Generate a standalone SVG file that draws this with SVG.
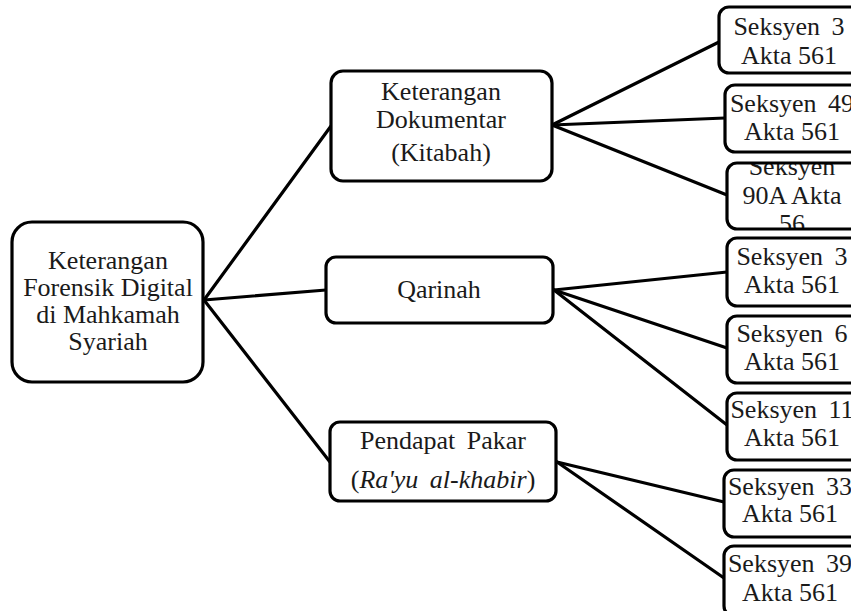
<svg xmlns="http://www.w3.org/2000/svg" width="851" height="611" viewBox="0 0 851 611">
<style>
.box{fill:#fff;stroke:#000;stroke-width:3.2}
.t{font-family:"Liberation Serif","Times New Roman",serif;font-size:26px;fill:#1a1a1a;text-anchor:middle}
.r{word-spacing:5px}
.c line{stroke:#000;stroke-width:3.2;stroke-linecap:round}
</style>
<defs>
<clipPath id="clip3"><rect x="727" y="163" width="135" height="66"/></clipPath>
</defs>
<rect width="851" height="611" fill="#fff"/>
<g class="c" id="connectors">
<line x1="204" y1="300" x2="331" y2="126"/>
<line x1="204" y1="300" x2="326" y2="290"/>
<line x1="204" y1="300" x2="330" y2="462"/>
<line x1="552" y1="125" x2="719" y2="42"/>
<line x1="552" y1="125" x2="725" y2="118"/>
<line x1="552" y1="125" x2="727" y2="195"/>
<line x1="554" y1="290" x2="727" y2="272"/>
<line x1="554" y1="290" x2="727" y2="348"/>
<line x1="554" y1="290" x2="727" y2="425"/>
<line x1="557" y1="462" x2="724" y2="502"/>
<line x1="557" y1="462" x2="724" y2="578"/>
</g>
<g id="root">
<rect class="box" x="12" y="222" width="191" height="160" rx="20"/>
<text class="t" x="108" y="269">Keterangan</text>
<text class="t" x="108" y="296">Forensik Digital</text>
<text class="t" x="108" y="323">di Mahkamah</text>
<text class="t" x="108" y="350">Syariah</text>
</g>
<g id="dokumentar">
<rect class="box" x="331" y="71" width="221" height="110" rx="12"/>
<text class="t" x="441" y="100">Keterangan</text>
<text class="t" x="441" y="128">Dokumentar</text>
<text class="t" x="441" y="161">(Kitabah)</text>
</g>
<g id="qarinah">
<rect class="box" x="326" y="257" width="227" height="66" rx="10"/>
<text class="t" x="439" y="298">Qarinah</text>
</g>
<g id="pakar">
<rect class="box" x="330" y="422" width="226" height="79" rx="10"/>
<text class="t r" x="443" y="449">Pendapat Pakar</text>
<text class="t r" x="443" y="488">(<tspan font-style="italic">Ra'yu al-khabir</tspan>)</text>
</g>
<g id="s3a">
<rect class="box" x="719" y="7" width="145" height="66" rx="10"/>
<text class="t r" x="789" y="35">Seksyen 3</text>
<text class="t" x="789" y="64">Akta 561</text>
</g>
<g id="s49">
<rect class="box" x="725" y="85" width="140" height="67" rx="10"/>
<text class="t r" x="792" y="112">Seksyen 49</text>
<text class="t" x="792" y="140">Akta 561</text>
</g>
<g id="s90a">
<g clip-path="url(#clip3)">
<rect x="727" y="163" width="135" height="66" fill="#fff"/>
<text class="t" x="792" y="175">Seksyen</text>
<text class="t" x="792" y="204">90A Akta</text>
<text class="t" x="792" y="232">56</text>
</g>
<rect class="box" x="727" y="163" width="135" height="66" rx="10" fill="none" style="fill:none"/>
</g>
<g id="s3b">
<rect class="box" x="727" y="238" width="135" height="68" rx="10"/>
<text class="t r" x="792" y="265">Seksyen 3</text>
<text class="t" x="792" y="293">Akta 561</text>
</g>
<g id="s6">
<rect class="box" x="727" y="316" width="135" height="67" rx="10"/>
<text class="t r" x="792" y="342">Seksyen 6</text>
<text class="t" x="792" y="370">Akta 561</text>
</g>
<g id="s11">
<rect class="box" x="727" y="393" width="135" height="67" rx="10"/>
<text class="t r" x="792" y="418">Seksyen 11</text>
<text class="t" x="792" y="446">Akta 561</text>
</g>
<g id="s33">
<rect class="box" x="724" y="470" width="140" height="67" rx="10"/>
<text class="t r" x="790" y="495">Seksyen 33</text>
<text class="t" x="790" y="522">Akta 561</text>
</g>
<g id="s39">
<rect class="box" x="724" y="546" width="140" height="70" rx="10"/>
<text class="t r" x="790" y="572">Seksyen 39</text>
<text class="t" x="790" y="601">Akta 561</text>
</g>
</svg>
